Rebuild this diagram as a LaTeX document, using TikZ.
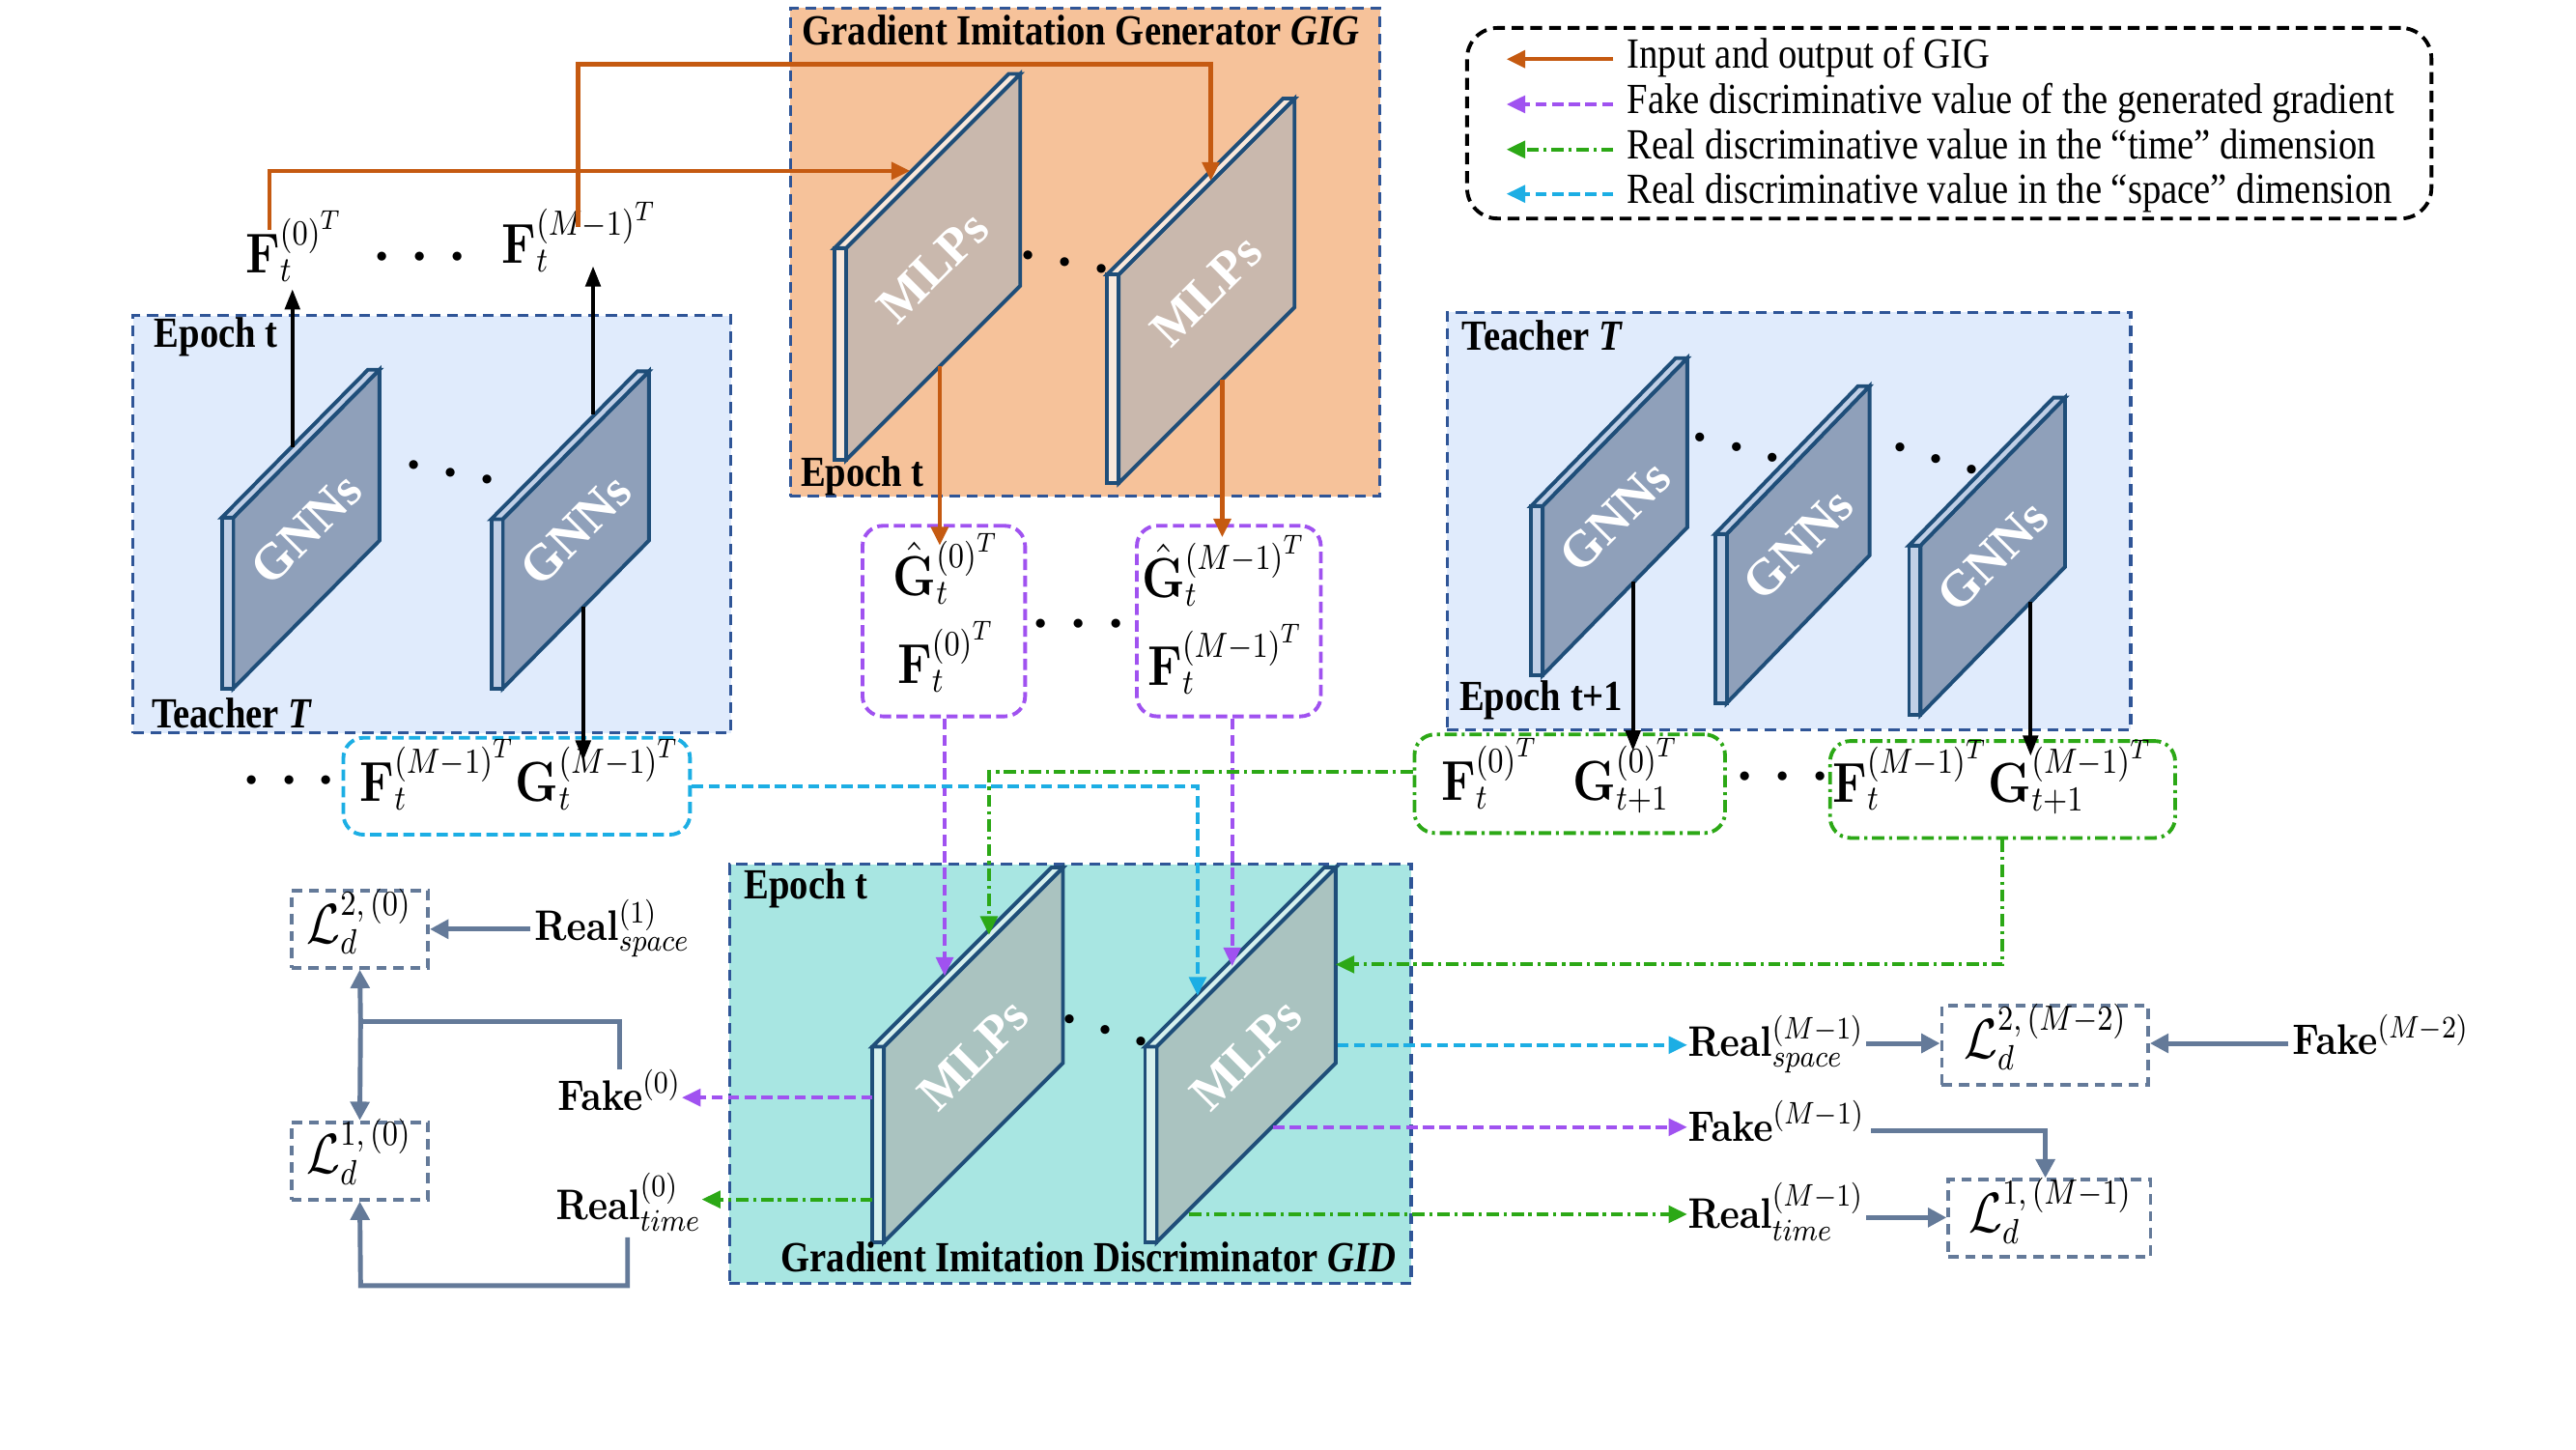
\documentclass[tikz,border=0pt]{standalone}
\usepackage[no-math]{fontspec}
\setmainfont{Liberation Serif}
\usepackage{graphicx}
\usetikzlibrary{arrows.meta,fit,calc}

\definecolor{cOrange}{RGB}{197,90,17}
\definecolor{cPurple}{RGB}{160,82,240}
\definecolor{cGreen}{RGB}{44,168,22}
\definecolor{cCyan}{RGB}{28,174,228}
\definecolor{cBorder}{RGB}{47,85,151}
\definecolor{cGIG}{RGB}{246,194,154}
\definecolor{cTeach}{RGB}{224,235,252}
\definecolor{cGID}{RGB}{168,230,226}
\definecolor{cSlab}{RGB}{31,78,121}
\definecolor{cGNN}{RGB}{143,160,186}
\definecolor{cGNNs}{RGB}{192,207,230}
\definecolor{cMLPa}{RGB}{201,184,173}
\definecolor{cMLPas}{RGB}{250,232,218}
\definecolor{cMLPb}{RGB}{170,195,192}
\definecolor{cMLPbs}{RGB}{214,240,238}
\definecolor{cLoss}{RGB}{100,122,153}

\newcommand{\vst}[1]{\scalebox{1}[1.15]{#1}}
% #1 L, #2 yTop, #3 yBottom, #4 R, #5 rise, #6 face, #7 strip, #8 text, #9 name
\newcommand{\slab}[9]{%
  \filldraw[slabline, fill=#6] (#1+7,#2) -- (#4,#2-#5) -- (#4,#3-#5) -- (#1+7,#3) -- cycle;
  \filldraw[slabline, fill=#7] (#1,#2) rectangle (#1+7,#3);
  \filldraw[slabline, fill=#7] (#1,#2) -- (#4-7,#2-#5) -- (#4,#2-#5) -- (#1+7,#2) -- cycle;
  \node[slabtext] (#9) at ({(#1+7+#4)/2},{(#2+#3-#5)/2}) {#8};
}

\tikzset{
 region/.style={draw=cBorder, line width=0.9pt, dash pattern=on 3.2pt off 2pt, inner sep=0pt},
 lossbox/.style={draw=cLoss, line width=1.1pt, dash pattern=on 3pt off 2pt, inner sep=0pt},
 pbox/.style={draw=cPurple, line width=1.1pt, dash pattern=on 3.3pt off 1.6pt, rounded corners=6pt, inner sep=0pt},
 cbox/.style={draw=cCyan, line width=1.1pt, dash pattern=on 3.3pt off 1.6pt, rounded corners=6pt, inner sep=0pt},
 gbox/.style={draw=cGreen, line width=1.1pt, dash pattern=on 3.6pt off 1.4pt on 0.9pt off 1.4pt, rounded corners=6pt, inner sep=0pt},
 ttl/.style={font=\fontsize{11}{13}\selectfont\bfseries, inner sep=0pt, anchor=base west},
 legt/.style={font=\fontsize{11}{13}\selectfont, inner sep=0pt, anchor=base west},
 mlbl/.style={font=\fontsize{13.5}{16}\selectfont, inner sep=0pt},
 slbl/.style={font=\fontsize{11}{14}\selectfont, inner sep=0pt, anchor=base west},
 dotl/.style={font=\fontsize{25}{30}\selectfont, inner sep=0pt},
 slabline/.style={draw=cSlab, line width=1.1pt},
 slabtext/.style={text=white, font=\fontsize{15}{17}\selectfont\bfseries, rotate=45, inner sep=0pt},
 tipT/.style={-{Triangle[length=5.5pt,width=5pt]}},
 orangeln/.style={draw=cOrange, line width=1.3pt, tipT},
 blackln/.style={draw=black, line width=1.1pt, -{Triangle[length=6pt,width=4.4pt]}},
 purpleln/.style={draw=cPurple, line width=1.1pt, dash pattern=on 3.3pt off 1.6pt, tipT},
 cyanln/.style={draw=cCyan, line width=1.1pt, dash pattern=on 3.3pt off 1.6pt, tipT},
 greenln/.style={draw=cGreen, line width=1.1pt, dash pattern=on 3.6pt off 1.4pt on 0.9pt off 1.4pt, tipT},
 lossln/.style={draw=cLoss, line width=1.4pt},
 lossarr/.style={lossln, -{Triangle[length=5.5pt,width=5.5pt]}},
}

\begin{document}
\begin{tikzpicture}[x=0.01701cm,y=-0.01701cm]
\useasboundingbox (0,0) rectangle (1568,882);
\fill[white] (0,0) rectangle (1568,882);

% ---------- regions ----------
\coordinate (gigA) at (481,5);   \coordinate (gigB) at (840,302);
\node[region, fill=cGIG, fit=(gigA)(gigB)] (GIG) {};
\coordinate (tlA) at (81,192);   \coordinate (tlB) at (445,446);
\node[region, fill=cTeach, fit=(tlA)(tlB)] (TL) {};
\coordinate (trA) at (881,190);  \coordinate (trB) at (1297,444);
\node[region, fill=cTeach, fit=(trA)(trB)] (TR) {};
\coordinate (gidA) at (444,526); \coordinate (gidB) at (859,781);
\node[region, fill=cGID, fit=(gidA)(gidB)] (GID) {};

% ---------- legend ----------
\coordinate (lgA) at (893,17); \coordinate (lgB) at (1480,133);
\node[draw=black, line width=1.1pt, dash pattern=on 3.5pt off 2pt, rounded corners=9pt, inner sep=0pt, fit=(lgA)(lgB)] (legend) {};
\coordinate (lg1a) at (982,36);   \coordinate (lg1b) at (917,36);
\coordinate (lg2a) at (982,63.5); \coordinate (lg2b) at (917,63.5);
\coordinate (lg3a) at (982,91);   \coordinate (lg3b) at (917,91);
\coordinate (lg4a) at (982,118);  \coordinate (lg4b) at (917,118);
\draw[orangeln] (lg1a) -- (lg1b);
\draw[purpleln] (lg2a) -- (lg2b);
\draw[greenln] (lg3a) -- (lg3b);
\draw[cyanln] (lg4a) -- (lg4b);
\node[legt] (lt1) at (990,41.7) {\vst{Input and output of GIG}};
\node[legt] (lt2) at (990,69.2) {\vst{Fake discriminative value of the generated gradient}};
\node[legt] (lt3) at (990,96.7) {\vst{Real discriminative value in the “time” dimension}};
\node[legt] (lt4) at (990,123.7) {\vst{Real discriminative value in the “space” dimension}};

% ---------- slabs ----------
\slab{508}{151}{280}{621}{106}{cMLPa}{cMLPas}{MLPs}{gigP1}
\slab{674}{167}{294}{788}{107}{cMLPa}{cMLPas}{MLPs}{gigP2}
\slab{135}{315}{419}{231}{90}{cGNN}{cGNNs}{GNNs}{tlP1}
\slab{299}{316}{419}{395}{90}{cGNN}{cGNNs}{GNNs}{tlP2}
\slab{932}{308}{411}{1027}{90}{cGNN}{cGNNs}{GNNs}{trP1}
\slab{1044}{325}{428}{1138}{90}{cGNN}{cGNNs}{GNNs}{trP2}
\slab{1162}{332}{435}{1257}{90}{cGNN}{cGNNs}{GNNs}{trP3}
\slab{531}{637}{756}{647}{109}{cMLPb}{cMLPbs}{MLPs}{gidP1}
\slab{697}{637}{756}{813}{109}{cMLPb}{cMLPbs}{MLPs}{gidP2}

% slanted dots
\node[dotl, rotate=-11] (dGIG) at (648,161) {$\cdots$};
\node[dotl, rotate=-11] (dTL) at (274,289) {$\cdots$};
\node[dotl, rotate=-16] (dTR1) at (1056.6,273.7) {$\cdots$};
\node[dotl, rotate=-17] (dTR2) at (1178,280.5) {$\cdots$};
\node[dotl, rotate=-17] (dGID) at (672.5,628.5) {$\cdots$};

% ---------- region titles ----------
\node[ttl] (gigT) at (488,27.4) {\vst{Gradient Imitation Generator \textit{GIG}}};
\node[ttl] (gigE) at (487,296) {\vst{Epoch t}};
\node[ttl] (tlE) at (93.6,211.6) {\vst{Epoch t}};
\node[ttl] (tlT) at (92,443) {\vst{Teacher \textit{T}}};
\node[ttl] (trT) at (889.6,213) {\vst{Teacher \textit{T}}};
\node[ttl] (trE) at (888,432.7) {\vst{Epoch t+1}};
\node[ttl] (gidE) at (452.7,547) {\vst{Epoch t}};
\node[ttl] (gidT) at (475,774) {\vst{Gradient Imitation Discriminator \textit{GID}}};

% ---------- feature labels ----------
\node[mlbl, anchor=base west] (F0top) at (149,166) {\vst{$\mathbf{F}_t^{(0)^T}$}};
\node[mlbl, anchor=base west] (FMtop) at (305,160.5) {\vst{$\mathbf{F}_t^{(M-1)^T}$}};
\node[dotl] (dF) at (255.5,157.6) {$\cdots$};

\coordinate (gh1A) at (525,320); \coordinate (gh1B) at (624,436);
\node[pbox, fit=(gh1A)(gh1B)] (ghat1) {};
\node[mlbl, anchor=base] (gh1G) at (576,362.5) {\vst{$\hat{\mathbf{G}}_t^{(0)^T}$}};
\node[mlbl, anchor=base] (gh1F) at (576,416) {\vst{$\mathbf{F}_t^{(0)^T}$}};
\coordinate (gh2A) at (692,320); \coordinate (gh2B) at (804,436);
\node[pbox, fit=(gh2A)(gh2B)] (ghat2) {};
\node[mlbl, anchor=base] (gh2G) at (745,363.5) {\vst{$\hat{\mathbf{G}}_t^{(M-1)^T}$}};
\node[mlbl, anchor=base] (gh2F) at (746,417.4) {\vst{$\mathbf{F}_t^{(M-1)^T}$}};
\node[dotl] (dGh) at (656.5,381) {$\cdots$};

\coordinate (cyA) at (209,449); \coordinate (cyB) at (420,508);
\node[cbox, fit=(cyA)(cyB)] (cyanB) {};
\node[mlbl, anchor=base] (cyanL) at (316.5,487.6) {\vst{$\mathbf{F}_t^{(M-1)^T}\mathbf{G}_t^{(M-1)^T}$}};
\node[dotl] (dC) at (176,476) {$\cdots$};

\coordinate (gr1A) at (861,447); \coordinate (gr1B) at (1050,507);
\node[gbox, fit=(gr1A)(gr1B)] (green1) {};
\node[mlbl, anchor=base] (green1L) at (949.7,487) {\vst{$\mathbf{F}_t^{(0)^T}\hspace{10pt}\mathbf{G}_{t+1}^{(0)^T}$}};
\coordinate (gr2A) at (1114,451); \coordinate (gr2B) at (1324,510);
\node[gbox, fit=(gr2A)(gr2B)] (green2) {};
\node[mlbl, anchor=base] (green2L) at (1213,488) {\vst{$\mathbf{F}_t^{(M-1)^T}\mathbf{G}_{t+1}^{(M-1)^T}$}};
\node[dotl] (dG) at (1085,474) {$\cdots$};

% ---------- loss boxes ----------
\coordinate (l20A) at (177.5,542); \coordinate (l20B) at (260.5,589);
\node[lossbox, fit=(l20A)(l20B)] (L20) {};
\node[mlbl, anchor=base] (L20t) at (218.7,574) {\vst{$\mathcal{L}_d^{2,\,(0)}$}};
\coordinate (l10A) at (177.5,683); \coordinate (l10B) at (260.5,730);
\node[lossbox, fit=(l10A)(l10B)] (L10) {};
\node[mlbl, anchor=base] (L10t) at (218.7,714) {\vst{$\mathcal{L}_d^{1,\,(0)}$}};
\coordinate (l2mA) at (1182,612); \coordinate (l2mB) at (1307.5,660);
\node[lossbox, fit=(l2mA)(l2mB)] (L2M) {};
\node[mlbl, anchor=base] (L2Mt) at (1245,644) {\vst{$\mathcal{L}_d^{2,\,(M-2)}$}};
\coordinate (l1mA) at (1186,718); \coordinate (l1mB) at (1309,765);
\node[lossbox, fit=(l1mA)(l1mB)] (L1M) {};
\node[mlbl, anchor=base] (L1Mt) at (1248,750) {\vst{$\mathcal{L}_d^{1,\,(M-1)}$}};

% ---------- real / fake labels ----------
\node[slbl] (RS1) at (325,572.6) {\vst{$\mathbf{Real}^{(1)}_{space}$}};
\node[slbl] (FK0) at (339,675.6) {\vst{$\mathbf{Fake}^{(0)}$}};
\node[slbl] (RT0) at (338,742) {\vst{$\mathbf{Real}^{(0)}_{time}$}};
\node[slbl] (RSM) at (1027,642.7) {\vst{$\mathbf{Real}^{(M-1)}_{space}$}};
\node[slbl] (FKM) at (1027,694.7) {\vst{$\mathbf{Fake}^{(M-1)}$}};
\node[slbl] (RTM) at (1027,747.6) {\vst{$\mathbf{Real}^{(M-1)}_{time}$}};
\node[slbl] (FKM2) at (1395,642) {\vst{$\mathbf{Fake}^{(M-2)}$}};

% ---------- orange connectors ----------
\coordinate (o1a) at (164,140); \coordinate (o1b) at (554,104);
\draw[orangeln] (o1a) |- (o1b);
\coordinate (o2a) at (352,138); \coordinate (o2m) at (737,39); \coordinate (o2b) at (737,110);
\draw[orangeln] (o2a) |- (o2m) -- (o2b);
\coordinate (o3a) at (572,223); \coordinate (o3b) at (572,332);
\draw[orangeln] (o3a) -- (o3b);
\coordinate (o4a) at (744,231); \coordinate (o4b) at (744,327);
\draw[orangeln] (o4a) -- (o4b);

% ---------- black connectors ----------
\coordinate (k1a) at (178,272); \coordinate (k1b) at (178,176);
\draw[blackln] (k1a) -- (k1b);
\coordinate (k2a) at (361,252); \coordinate (k2b) at (361,162);
\draw[blackln] (k2a) -- (k2b);
\coordinate (k3a) at (355,369); \coordinate (k3b) at (355,463);
\draw[blackln] (k3a) -- (k3b);
\coordinate (k4a) at (994,354); \coordinate (k4b) at (994,457);
\draw[blackln] (k4a) -- (k4b);
\coordinate (k5a) at (1236,366); \coordinate (k5b) at (1236,460);
\draw[blackln] (k5a) -- (k5b);

% ---------- purple ----------
\coordinate (p1b) at (575,594);
\draw[purpleln] (ghat1.south -| p1b) -- (p1b);
\coordinate (p2b) at (750,588);
\draw[purpleln] (ghat2.south -| p2b) -- (p2b);
\coordinate (p3a) at (531,668);
\draw[purpleln] (p3a) -- (p3a -| FK0.east);
\coordinate (p4a) at (775,686);
\draw[purpleln] (p4a) -- (p4a -| FKM.west);

% ---------- cyan ----------
\coordinate (c1m) at (729,478.5); \coordinate (c1b) at (729,606);
\draw[cyanln] (cyanB.east |- c1m) -- (c1m) -- (c1b);
\coordinate (c2a) at (814,636);
\draw[cyanln] (c2a) -- (c2a -| RSM.west);

% ---------- green ----------
\coordinate (g1m) at (602,470); \coordinate (g1b) at (602,569);
\draw[greenln] (green1.west |- g1m) -- (g1m) -- (g1b);
\coordinate (g2m) at (1219,587); \coordinate (g2b) at (813,587);
\draw[greenln] (green2.south -| g2m) -- (g2m) -- (g2b);
\coordinate (g3a) at (531,730);
\draw[greenln] (g3a) -- (g3a -| RT0.east);
\coordinate (g4a) at (724,739);
\draw[greenln] (g4a) -- (g4a -| RTM.west);

% ---------- loss connectors ----------
\coordinate (fk0t) at (377,651); \coordinate (j1) at (219.5,622);
\draw[lossln] (fk0t) |- (j1);
\draw[lossarr] (j1) -- (L20.south);
\draw[lossarr] (j1) -- (L10.north);
\coordinate (rs1w) at (323,565.5);
\draw[lossarr] (rs1w) -- (L20.east);
\coordinate (rt0b) at (382,753); \coordinate (j2) at (219.5,782.5);
\draw[lossarr] (rt0b) |- (j2) -- (L10.south);
\coordinate (l4a) at (1136,635);
\draw[lossarr] (l4a) -- (l4a -| L2M.west);
\coordinate (l5a) at (1393,635);
\draw[lossarr] (l5a) -- (l5a -| L2M.east);
\coordinate (l6a) at (1139,688); \coordinate (l6m) at (1245,688);
\draw[lossarr] (l6a) -- (l6m) -- (l6m |- L1M.north);
\coordinate (l7a) at (1136,741);
\draw[lossarr] (l7a) -- (l7a -| L1M.west);

\end{tikzpicture}
\end{document}
